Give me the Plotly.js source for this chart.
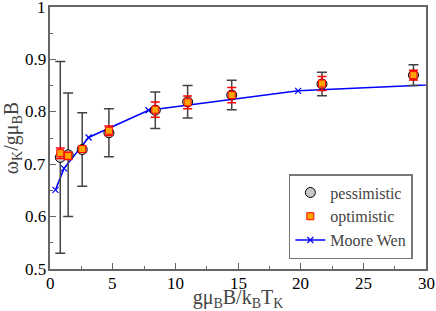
<!DOCTYPE html>
<html><head><meta charset="utf-8">
<script src="https://cdn.plot.ly/plotly-3.0.1.min.js"></script>
<style>html,body{margin:0;padding:0;background:#fff}#c{width:436px;height:311px}</style>
</head><body><div id="c"></div>
<script>
// Data
const xData      = [0.82, 1.45, 2.57, 4.7, 8.4, 10.98, 14.5, 21.7, 29.0];
const pessY      = [0.713, 0.718, 0.728, 0.760, 0.803, 0.819, 0.832, 0.853, 0.870];
const pessErr    = [0.183, 0.118, 0.070, 0.046, 0.035, 0.031, 0.028, 0.0225, 0.020];
const optY       = [0.721, 0.716, 0.729, 0.764, 0.804, 0.818, 0.832, 0.854, 0.870];
const optErr     = [0.010, 0.007, 0.005, 0.009, 0.0145, 0.012, 0.0145, 0.0135, 0.0095];
const mooreX     = [0.44, 1.12, 3.08, 7.86, 19.8, 50];
const mooreY     = [0.651, 0.692, 0.751, 0.803, 0.840, 0.873];
const xTicks     = [0, 5, 10, 15, 20, 25, 30];
const xTickText  = ['0', '5', '10', '15', '20', '25', '30'];
const yTicks     = [0.5, 0.6, 0.7, 0.8, 0.9, 1];
const yTickText  = ['0.5', '0.6', '0.7', '0.8', '0.9', '1'];

var traces = [
  {x: mooreX, y: mooreY, name: 'Moore Wen', type: 'scatter', mode: 'lines+markers',
   legendrank: 3,
   line: {color: '#0000ff', width: 1.5},
   marker: {symbol: 'x-thin', size: 6, color: '#0000ff', line: {color: '#0000ff', width: 1.2}}},
  {x: xData, y: pessY, name: 'pessimistic', type: 'scatter', mode: 'markers',
   legendrank: 1,
   error_y: {type: 'data', array: pessErr, visible: true, color: '#444', thickness: 1.5, width: 5},
   marker: {symbol: 'circle', size: 10, color: '#c8c8c8', line: {color: '#000', width: 1}}},
  {x: xData, y: optY, name: 'optimistic', type: 'scatter', mode: 'markers',
   legendrank: 2,
   error_y: {type: 'data', array: optErr, visible: true, color: '#ff0000', thickness: 1.5, width: 4.5},
   marker: {symbol: 'square', size: 7, color: '#ffa500', line: {color: '#ff0000', width: 1}}}
];

// Tick labels placed at the axis tick values through the axes' own scales
var tickAnns = xTicks.map(function (v, i) {
  return {x: v, xref: 'x', y: 0, yref: 'paper', yanchor: 'top', yshift: -3,
          text: xTickText[i], showarrow: false,
          font: {family: 'Liberation Serif', size: 17, color: '#000'}};
}).concat(yTicks.map(function (v, i) {
  return {x: 0, xref: 'paper', y: v, yref: 'y', xanchor: 'right', xshift: -2,
          text: yTickText[i], showarrow: false,
          font: {family: 'Liberation Serif', size: 17, color: '#000'}};
}));

var layout = {
  width: 436, height: 311,
  margin: {l: 50, r: 10, t: 7, b: 42},
  font: {family: 'Liberation Serif', size: 17},
  showlegend: true,
  legend: {x: 0.965, y: 0.038, xanchor: 'right', yanchor: 'bottom',
           bgcolor: '#fff', bordercolor: '#777', borderwidth: 1.5, font: {size: 16}},
  xaxis: {range: [0, 30], dtick: 5, tick0: 0, showgrid: false, zeroline: false,
          showline: true, mirror: true, linecolor: '#666', linewidth: 2,
          ticks: 'inside', ticklen: 6, tickcolor: '#666', tickwidth: 1.2,
          minor: {dtick: 2.5, ticks: 'inside', ticklen: 3, tickcolor: '#666', tickwidth: 1.2},
          showticklabels: false,
          title: {text: 'gμ<sub>B</sub>B/k<sub>B</sub>T<sub>K</sub>'}},
  yaxis: {range: [0.5, 1], dtick: 0.1, tick0: 0.5, showgrid: false, zeroline: false,
          showline: true, mirror: true, linecolor: '#666', linewidth: 2,
          ticks: 'inside', ticklen: 6, tickcolor: '#666', tickwidth: 1.2,
          minor: {dtick: 0.05, tick0: 0.5, ticks: 'inside', ticklen: 3, tickcolor: '#666', tickwidth: 1.2},
          showticklabels: false,
          title: {text: 'ω<sub>K</sub>/gμ<sub>B</sub>B'}},
  annotations: tickAnns
};
Plotly.newPlot('c', traces, layout, {displayModeBar: false});
</script></body></html>
